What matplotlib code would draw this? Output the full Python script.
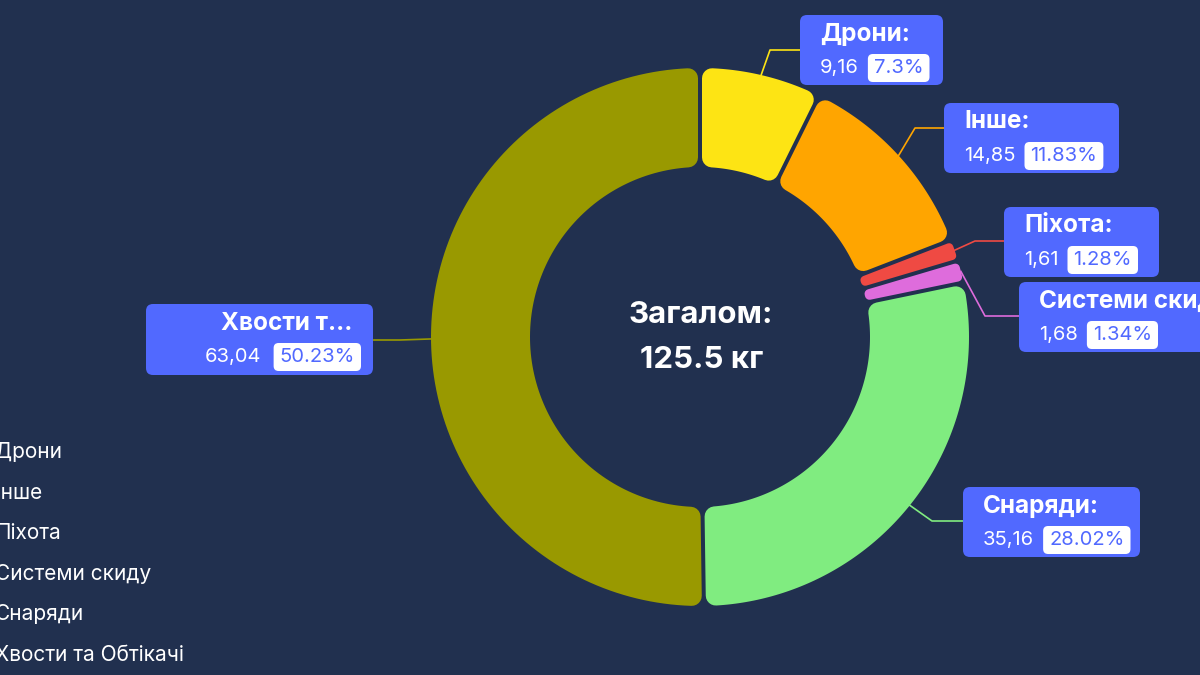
#-*- coding: utf-8 -*-

# ----- Include library -----
import numpy as np
import matplotlib.pyplot as plt
from matplotlib.patches import Polygon, FancyBboxPatch

# ----- Data -----
labels = ["Дрони", "Інше", "Піхота", "Системи скиду", "Снаряди", "Хвости та Обтікачі"]
values = [9.16, 14.85, 1.61, 1.68, 35.16, 63.04]
colors = ["#FDE414", "#FFA500", "#EF4A43", "#DE6CDC", "#80EC80", "#999900"]
unit = "кг"

# ----- Layout (pixels, y down) -----
BG = "#21304F"
BOX_BLUE = "#5169FF"
CX, CY = 700, 337
R_OUT, R_IN = 269, 170
GAP = 4
CORNER = 10
# label box: x, y, w, h, align
boxes = [
    (800, 15, 143, 70, "left"),
    (944, 103, 175, 70, "left"),
    (1004, 207, 155, 70, "left"),
    (1019, 282, 200, 70, "left"),
    (963, 487, 177, 70, "left"),
    (146, 304, 227, 71, "right"),
]
# leader line: elbow point, end x
elbows = [(770, 50), (915, 128), (975, 241), (985, 316), (932, 521), (400, 340)]
line_end = [800, 944, 1004, 1019, 963, 373]

FONT = ["Inter", "DejaVu Sans"]
PX = 72 / 100.0   # px -> pt
T_SIZE = 17.5     # box title
V_SIZE = 14.5     # value / percent
C_SIZE = 22.5     # center text
L_SIZE = 15       # legend


def ring_piece(t1, t2, r_in, r_out, s, n=120):
    """polygon of ring piece, edges offset by s (clockwise angle from top, degrees)"""
    pts = []
    a1 = np.radians(t1) + np.arcsin(s / r_out)
    a2 = np.radians(t2) - np.arcsin(s / r_out)
    for a in np.linspace(a1, a2, n):
        pts.append((CX + r_out * np.sin(a), CY - r_out * np.cos(a)))
    b1 = np.radians(t1) + np.arcsin(s / r_in)
    b2 = np.radians(t2) - np.arcsin(s / r_in)
    for a in np.linspace(b2, b1, n):
        pts.append((CX + r_in * np.sin(a), CY - r_in * np.cos(a)))
    return pts


def pct_text(p):
    t = "%.2f" % p
    return t.rstrip("0").rstrip(".") + "%"


def main_proc():
    fig = plt.figure(figsize=(12, 6.75), dpi=100)
    fig.patch.set_facecolor(BG)
    ax = fig.add_axes([0, 0, 1, 1])
    ax.set_xlim(0, 1200)
    ax.set_ylim(675, 0)
    ax.axis("off")
    ax.set_facecolor(BG)
    renderer = fig.canvas.get_renderer()

    total = sum(values)
    cum = np.concatenate([[0], np.cumsum(values)]) / total * 360.0

    # ----- donut pieces with rounded corners -----
    for i, v in enumerate(values):
        t1, t2 = cum[i], cum[i + 1]
        chord = 2 * R_IN * np.sin(np.radians(t2 - t1) / 2)
        d = min(CORNER, (chord - GAP) / 2 - 0.6, (R_OUT - R_IN) / 2 - 1)
        s = GAP / 2 + d
        pts = ring_piece(t1, t2, R_IN + d, R_OUT - d, s)
        poly = Polygon(pts, closed=True, facecolor=colors[i], edgecolor=colors[i],
                       linewidth=2 * d * PX, joinstyle="round", zorder=2)
        ax.add_patch(poly)

    # ----- center text -----
    ax.text(CX + 1, 315, "Загалом:", color="white", fontsize=C_SIZE, fontweight="bold",
            ha="center", va="center", family=FONT)
    ax.text(CX + 2, 360, ("%g" % total) + " " + unit, color="white", fontsize=C_SIZE,
            fontweight="bold", ha="center", va="center", family=FONT)

    # ----- leader lines and label boxes -----
    for i, v in enumerate(values):
        mid = np.radians((cum[i] + cum[i + 1]) / 2)
        sx, sy = CX + R_OUT * np.sin(mid), CY - R_OUT * np.cos(mid)
        ex, ey = elbows[i]
        ax.plot([sx, ex, line_end[i]], [sy, ey, ey], color=colors[i], lw=1.2, zorder=1)

        bx, by, bw, bh, align = boxes[i]
        ax.add_patch(FancyBboxPatch((bx, by), bw, bh,
                                    boxstyle="round,pad=0,rounding_size=7",
                                    facecolor=BOX_BLUE, edgecolor="none", zorder=3))
        name = labels[i]
        if len(name) > 13:
            title = name[:8] + "..."
        else:
            title = name + ":"
        val = ("%.2f" % v).replace(".", ",")
        pct = pct_text(v / total * 100)

        if align == "left":
            ax.text(bx + 20, by + 19, title, color="white", fontsize=T_SIZE,
                    fontweight="bold", ha="left", va="center", family=FONT, zorder=4)
            tv = ax.text(bx + 20, by + 53, val, color="white", fontsize=V_SIZE,
                         ha="left", va="center", family=FONT, zorder=4)
            ext = tv.get_window_extent(renderer)
            px0 = ext.x1 + 9
            tp = ax.text(px0 + 6, by + 53, pct, color=BOX_BLUE, fontsize=V_SIZE,
                         ha="left", va="center", family=FONT, zorder=5)
            pe = tp.get_window_extent(renderer)
            pw = pe.width + 12
        else:
            ax.text(bx + bw - 21, by + 20, title, color="white", fontsize=T_SIZE,
                    fontweight="bold", ha="right", va="center", family=FONT, zorder=4)
            tp = ax.text(bx + bw - 18, by + 53, pct, color=BOX_BLUE, fontsize=V_SIZE,
                         ha="right", va="center", family=FONT, zorder=5)
            pe = tp.get_window_extent(renderer)
            pw = pe.width + 12
            px0 = bx + bw - 12 - pw
            ax.text(px0 - 12, by + 53, val, color="white", fontsize=V_SIZE,
                    ha="right", va="center", family=FONT, zorder=4)
        ax.add_patch(FancyBboxPatch((px0, by + 39), pw, 28,
                                    boxstyle="round,pad=0,rounding_size=5",
                                    facecolor="white", edgecolor="none", zorder=4))

    # ----- legend (cut at left edge) -----
    for i, name in enumerate(labels):
        ax.text(-5, 452 + 40.6 * i, name, color="white", fontsize=L_SIZE,
                ha="left", va="center", family=FONT, clip_on=False)

    fig.savefig("out.png", dpi=100, facecolor=BG)


if __name__ == '__main__':
    main_proc()
